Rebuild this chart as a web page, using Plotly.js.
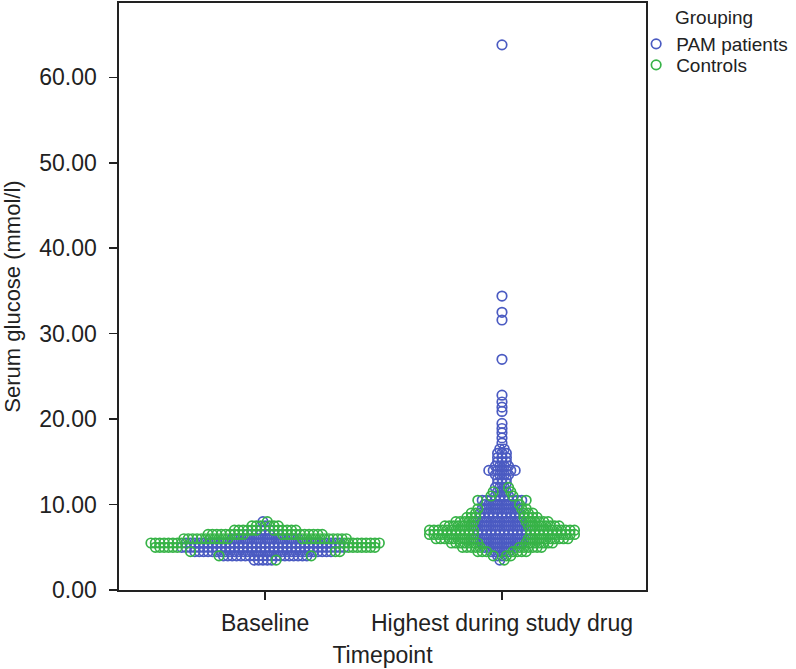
<!DOCTYPE html>
<html><head><meta charset="utf-8">
<script src="https://cdn.plot.ly/plotly-3.0.1.min.js"></script>
<style>html,body{margin:0;padding:0;background:#fff}#chart{width:796px;height:669px}</style>
</head><body><div id="chart"></div>
<script>
// ---- data ----
const categories = ['Baseline', 'Highest during study drug'];
const groups = ['PAM patients', 'Controls'];
const yTickVals = [0, 10, 20, 30, 40, 50, 60];

// value bins (mmol/l) used by the stacked dot plot
const binValues = [3.5, 4.0, 4.5, 5.0, 5.5, 6.0, 6.5, 7.0, 7.5, 8.0, 8.5, 9.0, 9.5, 10.0,
                   10.5, 11.0, 11.5, 12.0, 12.5, 13.0, 13.5, 14.0, 14.5, 15.0, 15.5, 16.0, 16.5];
// number of dots in each bin
const baselinePAMCounts  = [5, 20, 32, 38, 36, 16, 8, 3, 1, 1, 0, 0, 0, 0, 0, 0, 0, 0, 0, 0, 0, 0, 0, 0, 0, 0, 0];
const baselineCtrlCounts = [1, 2, 3, 13, 17, 22, 19, 12, 6, 1, 0, 0, 0, 0, 0, 0, 0, 0, 0, 0, 0, 0, 0, 0, 0, 0, 0];
const highestPAMCounts   = [1, 2, 5, 8, 10, 12, 12, 12, 12, 11, 10, 10, 9, 8, 10, 4, 3, 3, 3, 3, 4, 7, 4, 3, 3, 3, 2];
const highestCtrlCounts  = [1, 3, 7, 11, 14, 19, 22, 22, 15, 11, 7, 5, 3, 1, 2, 2, 2, 1, 0, 0, 0, 0, 0, 0, 0, 0, 0];
// individual high values of PAM patients during study drug
const highestPAMSingles  = [17.2, 17.8, 18.4, 18.9, 19.5, 20.9, 21.4, 22.0, 22.8, 27.0, 31.6, 32.5, 34.4, 63.8];

// ---- layout / style ----
const W = 796, H = 669;
const margin = {l: 119, r: 143, t: 3, b: 79};
const xRange = [-0.617, 1.608];
const yRange = [0, 68.7];
const dotSpacingPx = 4.45;
const plotW = W - margin.l - margin.r;
const plotH = H - margin.t - margin.b;
const dx = dotSpacingPx * (xRange[1] - xRange[0]) / plotW;
const blue = '#4b5bc2';
const green = '#37b347';
const font = '"Liberation Sans", Arial, Helvetica, sans-serif';

// build stacked (symmetric) dot rows: PAM in the centre slots, controls outside
const pts = {pam: {x: [], y: []}, ctrl: {x: [], y: []}};
function addRow(cx, value, nb, ng) {
  const total = nb + ng;
  if (!total) return;
  const offs = [];
  for (let j = 0; j < total; j++) offs.push((j - (total - 1) / 2) * dx);
  offs.sort((a, b) => Math.abs(a) - Math.abs(b) || a - b);
  offs.forEach((o, k) => {
    const t = k < nb ? pts.pam : pts.ctrl;
    t.x.push(cx + o); t.y.push(value);
  });
}
const pamSets = [baselinePAMCounts, highestPAMCounts];
const ctrlSets = [baselineCtrlCounts, highestCtrlCounts];
categories.forEach((c, ci) => {
  binValues.forEach((v, i) => addRow(ci, v, pamSets[ci][i], ctrlSets[ci][i]));
});
highestPAMSingles.forEach(v => addRow(1, v, 1, 0));

const markerBase = {symbol: 'circle-open', size: 9.5};
const traces = [
  {type: 'scatter', mode: 'markers', name: groups[0], x: pts.pam.x, y: pts.pam.y, legend: 'legend',
   marker: Object.assign({}, markerBase, {color: blue, line: {width: 1.7, color: blue}})},
  {type: 'scatter', mode: 'markers', name: groups[1], x: pts.ctrl.x, y: pts.ctrl.y, legend: 'legend2',
   marker: Object.assign({}, markerBase, {color: green, line: {width: 1.7, color: green}})}
];

function legendAt(topPx) {
  return {x: (643 - margin.l) / plotW, xanchor: 'left', y: (H - margin.b - topPx) / plotH, yanchor: 'top',
          bgcolor: 'rgba(0,0,0,0)', font: {size: 19, color: '#222'}, itemwidth: 30};
}

const layout = {
  width: W, height: H, margin: margin,
  paper_bgcolor: '#fff', plot_bgcolor: '#fff',
  font: {family: font, color: '#222', size: 22},
  showlegend: true,
  legend: legendAt(25),
  legend2: legendAt(46),
  xaxis: {range: xRange, tickvals: [0, 1], ticktext: categories, showgrid: false, zeroline: false,
          showline: true, mirror: true, linecolor: '#222', linewidth: 1.6,
          ticks: 'outside', ticklen: 8, tickwidth: 1.6, tickcolor: '#222',
          tickfont: {size: 23}, ticklabelstandoff: 4,
          title: {text: 'Timepoint', font: {size: 23}, standoff: 11}},
  yaxis: {range: yRange, tickvals: yTickVals, tickformat: '.2f', showgrid: false, zeroline: false,
          showline: true, mirror: true, linecolor: '#222', linewidth: 1.6,
          ticks: 'outside', ticklen: 8, tickwidth: 1.6, tickcolor: '#222',
          tickfont: {size: 23}, ticklabelstandoff: 8,
          title: {text: 'Serum glucose (mmol/l)', font: {size: 22}, standoff: 14}},
  annotations: [{text: 'Grouping', xref: 'paper', yref: 'paper', x: (680 - margin.l) / plotW, xanchor: 'left',
                 y: (H - margin.b - 17) / plotH, yanchor: 'middle', showarrow: false,
                 font: {size: 19, color: '#222'}}]
};

Plotly.newPlot('chart', traces, layout, {displayModeBar: false, staticPlot: true});
</script></body></html>
